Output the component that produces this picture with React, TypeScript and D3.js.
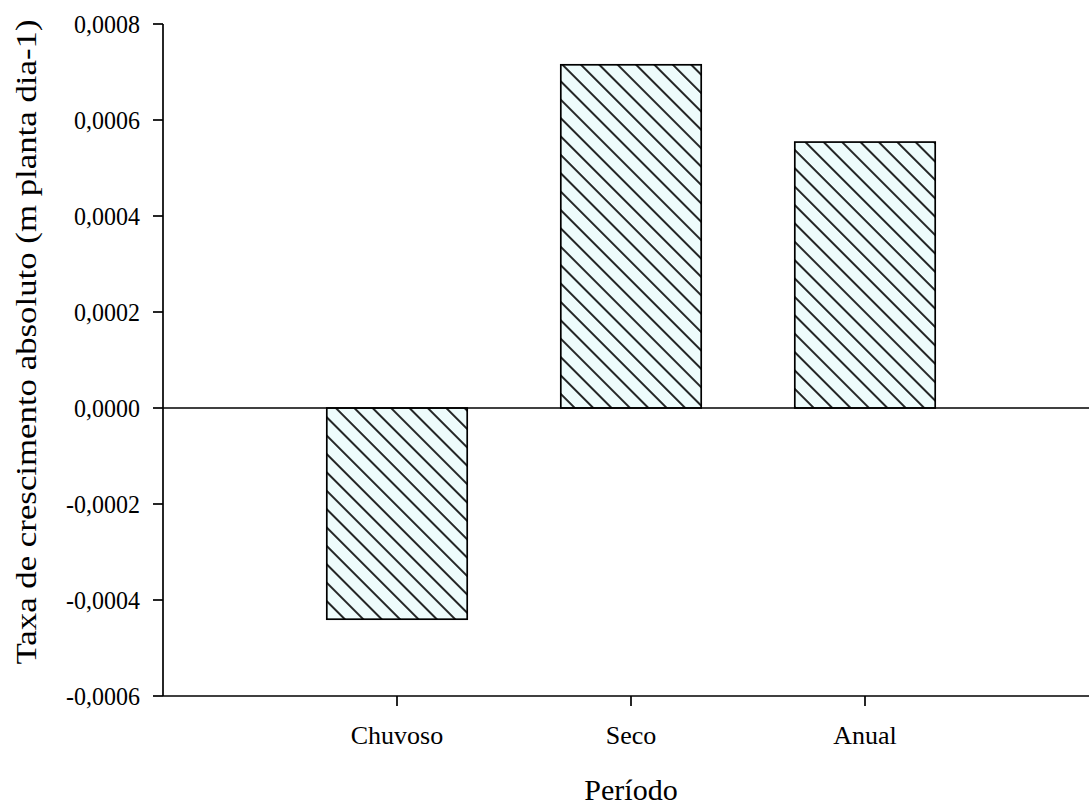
import React from "react";
import * as d3 from "d3";

const categories = ["Chuvoso", "Seco", "Anual"];
const values = [-0.00044, 0.000715, 0.000554];
const yTicks = [-0.0006, -0.0004, -0.0002, 0, 0.0002, 0.0004, 0.0006, 0.0008];
const xTitle = "Período";
const yTitle = "Taxa de crescimento absoluto (m planta dia-1)";

const W = 1089;
const H = 805;
const FONT = "'Liberation Serif', 'Times New Roman', serif";

const locale = d3.formatLocale({
  decimal: ",",
  thousands: ".",
  grouping: [3],
  currency: ["", ""],
  minus: "-",
});
const fmt = locale.format(".4f");

export default function App() {
  const axisX = 163;
  const y = d3.scaleLinear().domain([-0.0006, 0.0008]).range([696, 24]);
  const xBar = d3
    .scaleBand<string>()
    .domain(categories)
    .range([280, 982])
    .paddingInner(0.4)
    .paddingOuter(0.2);
  const xMid = (c: string) => (xBar(c) as number) + xBar.bandwidth() / 2;
  const y0 = y(0);

  return (
    <svg
      width={W}
      height={H}
      style={{ position: "absolute", left: 0, top: 0, background: "#fff" }}
    >
      <defs>
        <pattern
          id="hatch"
          patternUnits="userSpaceOnUse"
          width={13}
          height={13}
          patternTransform="rotate(-45)"
        >
          <rect x={0} y={0} width={13} height={13} fill="#eefcfc" />
          <line x1={1} y1={-1} x2={1} y2={14} stroke="#000" strokeWidth={1.7} />
        </pattern>
      </defs>

      {/* bars */}
      {categories.map((c, i) => {
        const v = values[i];
        const top = Math.min(y(v), y0);
        const h = Math.abs(y(v) - y0);
        return (
          <rect
            key={c}
            x={xBar(c)}
            y={top}
            width={xBar.bandwidth()}
            height={h}
            fill="url(#hatch)"
            stroke="#000"
            strokeWidth={1.7}
          />
        );
      })}

      {/* zero line */}
      <line x1={axisX} x2={W} y1={y0} y2={y0} stroke="#000" strokeWidth={1.7} />

      {/* y axis */}
      <line x1={axisX} x2={axisX} y1={y(0.0008)} y2={y(-0.0006)} stroke="#000" strokeWidth={1.7} />
      {yTicks.map((t) => (
        <g key={t}>
          <line x1={axisX - 10} x2={axisX} y1={y(t)} y2={y(t)} stroke="#000" strokeWidth={1.7} />
          <text
            transform={`translate(140, ${y(t)}) scale(1, 1.08)`}
            dy="0.35em"
            textAnchor="end"
            fontFamily={FONT}
            fontSize={24}
            fill="#000"
          >
            {fmt(t)}
          </text>
        </g>
      ))}

      {/* x axis */}
      <line x1={axisX} x2={W} y1={y(-0.0006)} y2={y(-0.0006)} stroke="#000" strokeWidth={1.7} />
      {categories.map((c) => (
        <g key={c}>
          <line
            x1={xMid(c)}
            x2={xMid(c)}
            y1={y(-0.0006)}
            y2={y(-0.0006) + 10}
            stroke="#000"
            strokeWidth={1.7}
          />
          <text
            x={xMid(c)}
            y={744}
            textAnchor="middle"
            fontFamily={FONT}
            fontSize={26}
            fill="#000"
          >
            {c}
          </text>
        </g>
      ))}

      {/* axis titles */}
      <text
        x={631}
        y={800}
        textAnchor="middle"
        fontFamily={FONT}
        fontSize={30}
        fill="#000"
      >
        {xTitle}
      </text>
      <text
        transform={`translate(36, 342) rotate(-90)`}
        textAnchor="middle"
        fontFamily={FONT}
        fontSize={30}
        textLength={645}
        lengthAdjust="spacingAndGlyphs"
        fill="#000"
      >
        {yTitle}
      </text>
    </svg>
  );
}
